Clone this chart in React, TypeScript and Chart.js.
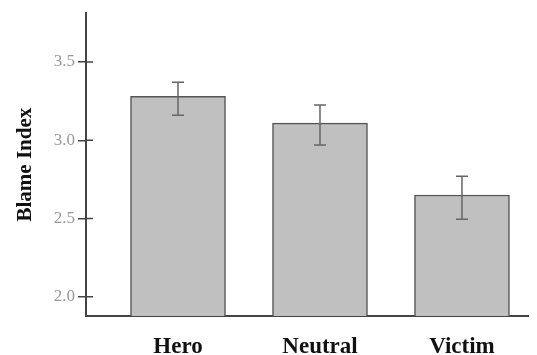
import React, { useEffect, useRef } from "react";
import { Chart, registerables } from "chart.js";

Chart.register(...registerables);

const categories = ["Hero", "Neutral", "Victim"];
const blameMeans = [3.28, 3.11, 2.65];
const errorUpper = [3.37, 3.225, 2.77];
const errorLower = [3.16, 2.97, 2.495];
const yTickValues = [2.0, 2.5, 3.0, 3.5];

const SERIF = "'Liberation Serif', 'Times New Roman', serif";

const errorBarPlugin = {
  id: "errorBars",
  afterDatasetsDraw(chart: any) {
    const { ctx, scales } = chart;
    const xs = scales.x;
    const ys = scales.y;
    ctx.save();
    ctx.strokeStyle = "#666";
    ctx.lineWidth = 1.5;
    categories.forEach((_, i) => {
      const x = xs.getPixelForValue(i);
      const yt = ys.getPixelForValue(errorUpper[i]);
      const yb = ys.getPixelForValue(errorLower[i]);
      ctx.beginPath();
      ctx.moveTo(x, yt);
      ctx.lineTo(x, yb);
      ctx.moveTo(x - 6, yt);
      ctx.lineTo(x + 6, yt);
      ctx.moveTo(x - 6, yb);
      ctx.lineTo(x + 6, yb);
      ctx.stroke();
    });
    // inner part of y tick marks
    ctx.strokeStyle = "#444";
    ctx.lineWidth = 1.5;
    const left = chart.chartArea.left;
    yTickValues.forEach((v) => {
      const y = ys.getPixelForValue(v);
      ctx.beginPath();
      ctx.moveTo(left, y);
      ctx.lineTo(left + 7, y);
      ctx.stroke();
    });
    ctx.restore();
  },
};

export default function App() {
  const ref = useRef<HTMLCanvasElement>(null);
  useEffect(() => {
    if (!ref.current) return;
    const chart = new Chart(ref.current, {
      type: "bar",
      data: {
        datasets: [
          {
            data: categories.map((_, i) => ({ x: i, y: blameMeans[i] })) as any,
            backgroundColor: "#c0c0c0",
            borderColor: "#555",
            borderWidth: 1.5,
            barThickness: 95,
          },
        ],
      },
      options: {
        responsive: false,
        animation: false,
        layout: { padding: { left: 0, top: 12, right: 9, bottom: 0 } },
        plugins: {
          legend: { display: false },
          tooltip: { enabled: false },
        },
        scales: {
          x: {
            type: "linear",
            offset: false,
            min: -0.648,
            max: 2.465,
            afterBuildTicks: (scale: any) => {
              scale.ticks = categories.map((_, i) => ({ value: i }));
            },
            afterFit: (scale: any) => {
              scale.height = 39;
            },
            grid: { display: false, drawTicks: false, tickLength: 0, offset: false },
            border: { display: true, color: "#444", width: 2 },
            ticks: {
              padding: 17,
              color: "#111",
              font: { family: SERIF, size: 23, weight: "bold" },
              callback: (v: any) => categories[v as number] ?? "",
              maxRotation: 0,
              autoSkip: false,
            },
          },
          y: {
            min: 1.877,
            max: 3.812,
            afterBuildTicks: (scale: any) => {
              scale.ticks = yTickValues.map((v) => ({ value: v }));
            },
            afterFit: (scale: any) => {
              scale.width = 86;
            },
            grid: {
              display: true,
              drawOnChartArea: false,
              drawTicks: true,
              tickLength: 8,
              color: "#444",
              lineWidth: 1.5,
            },
            border: { display: true, color: "#444", width: 2 },
            ticks: {
              padding: 3,
              color: "#999",
              font: { family: SERIF, size: 17 },
              callback: (v: any) => Number(v).toFixed(1),
            },
            title: {
              display: true,
              text: "Blame Index",
              color: "#111",
              font: { family: SERIF, size: 21, weight: "bold" },
              padding: { top: 13, bottom: 0 },
            },
          },
        },
      },
      plugins: [errorBarPlugin],
    });
    return () => chart.destroy();
  }, []);
  return (
    <div style={{ position: "fixed", left: 0, top: 0, width: 537, height: 355, background: "#fff" }}>
      <canvas ref={ref} width={537} height={355} />
    </div>
  );
}
